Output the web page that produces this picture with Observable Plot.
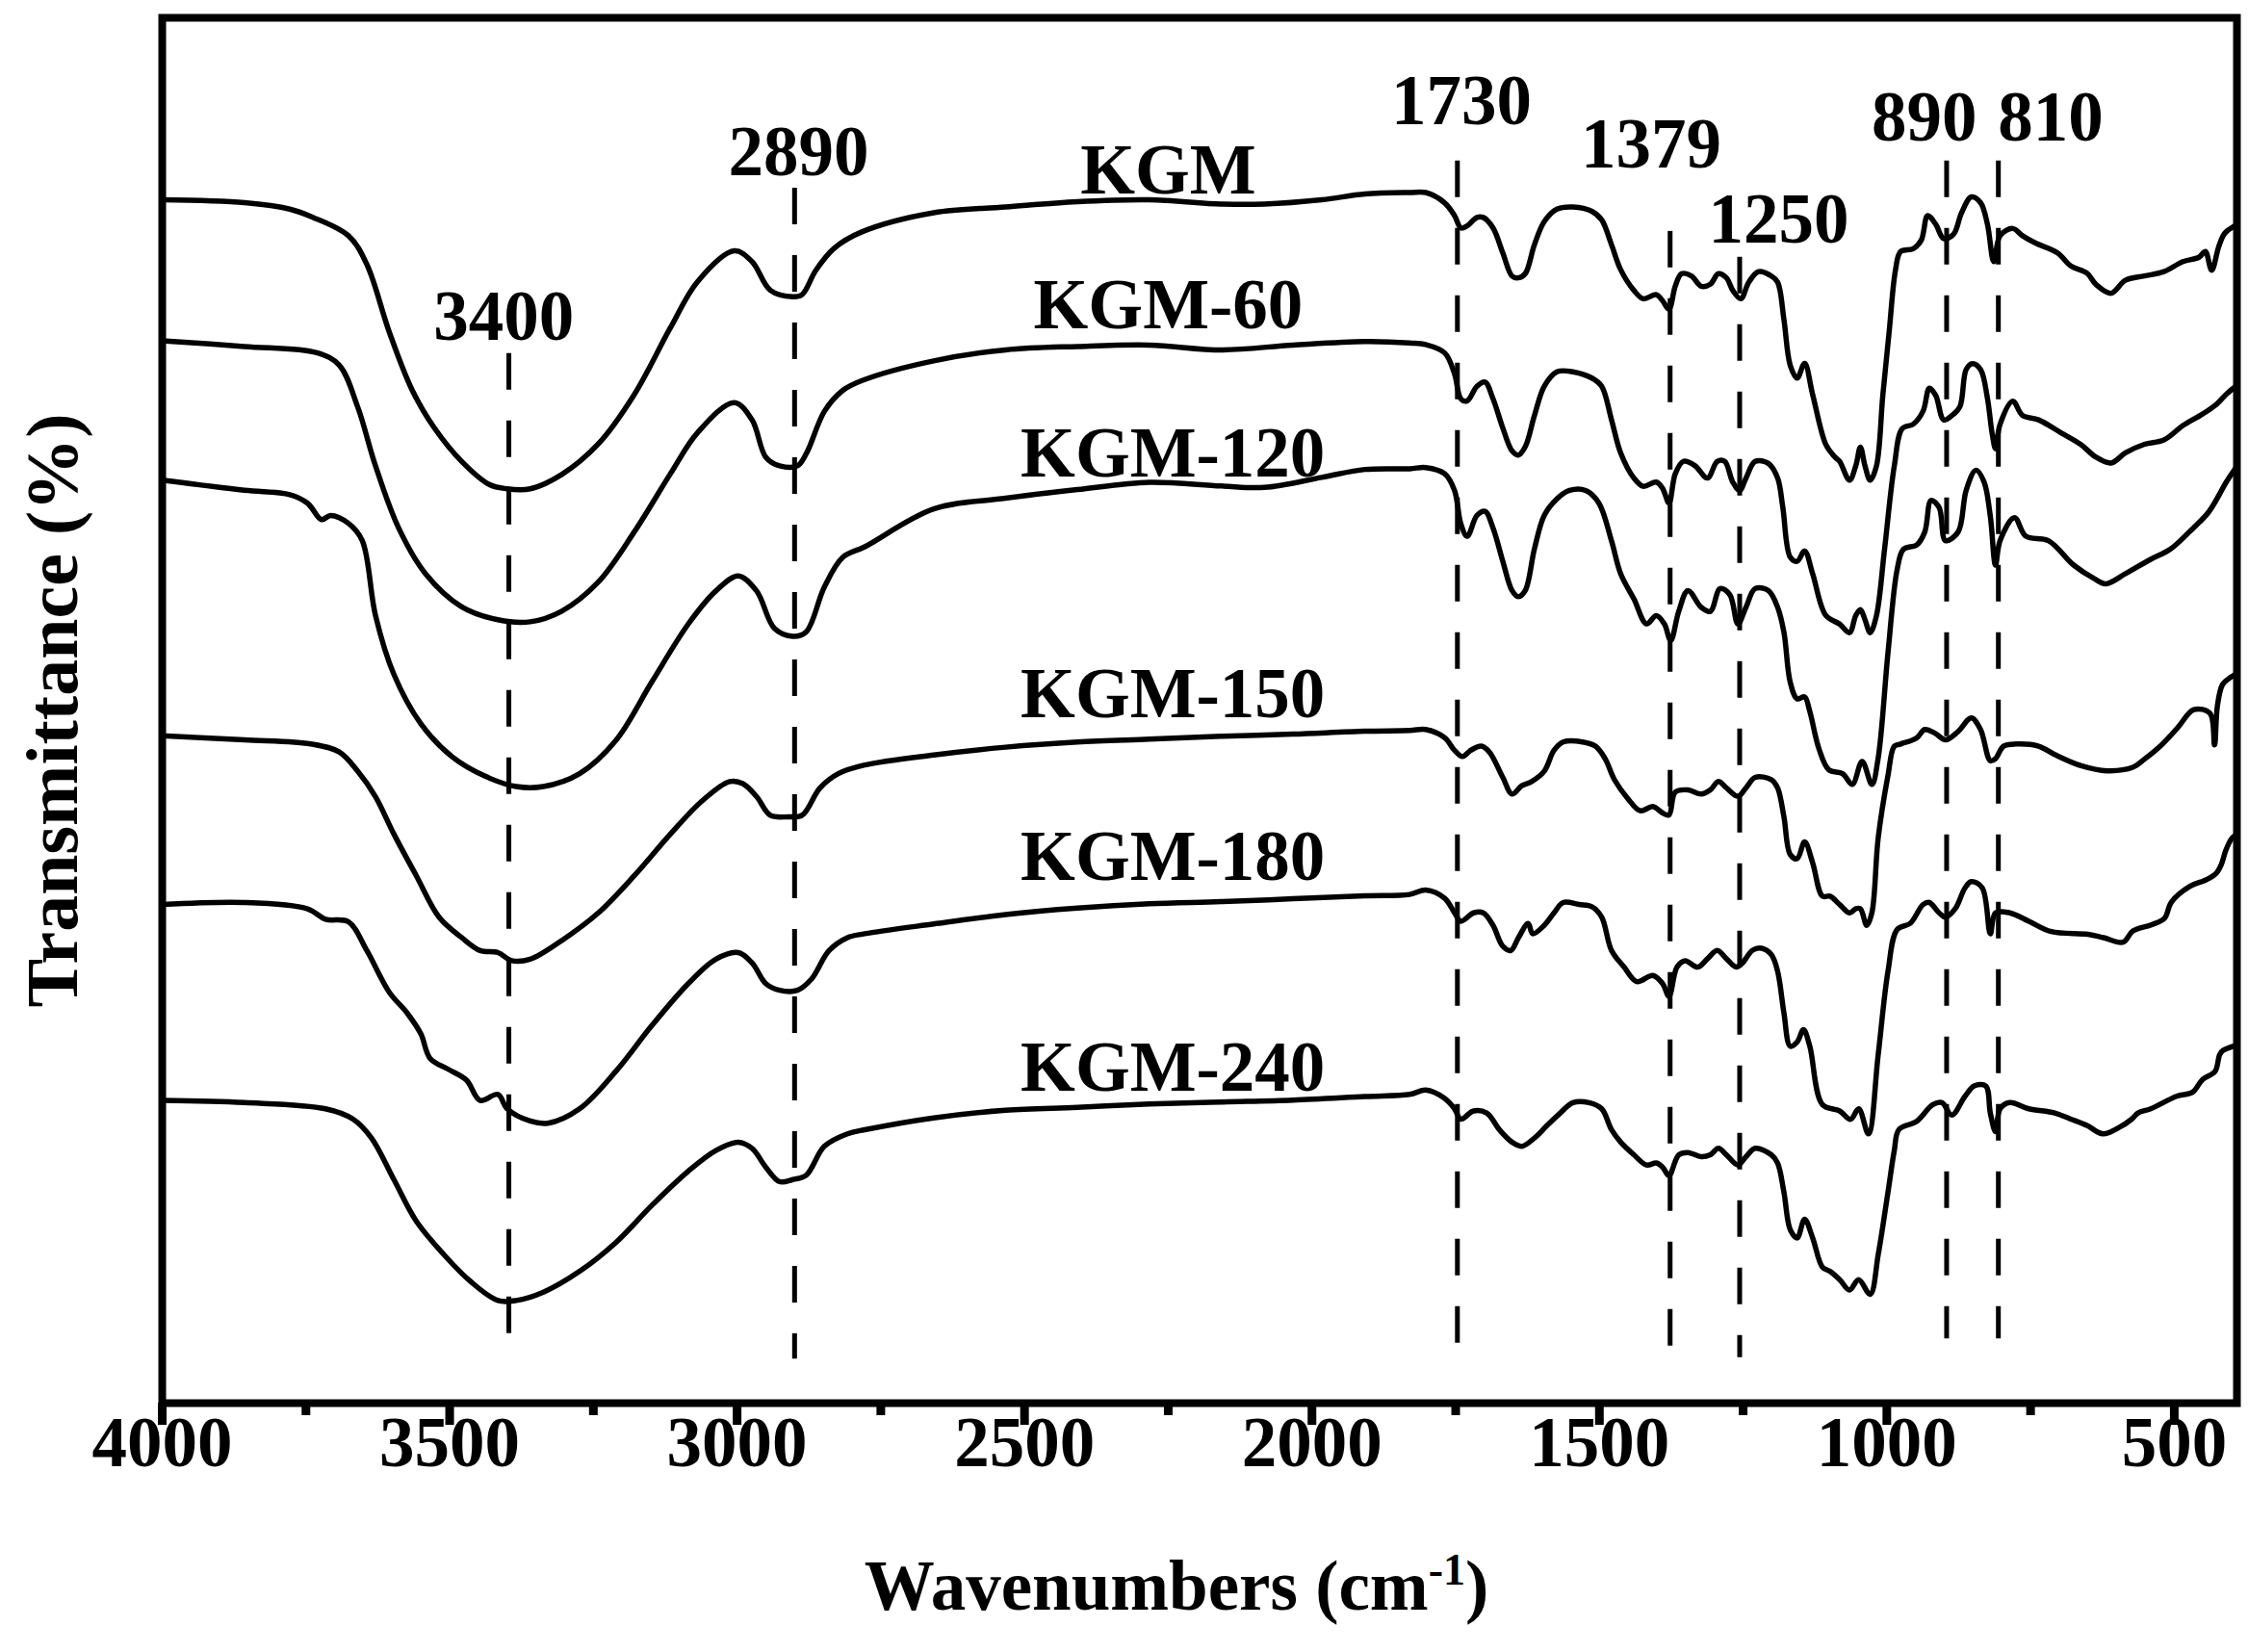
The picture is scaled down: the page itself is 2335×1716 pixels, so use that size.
<!DOCTYPE html>
<html>
<head>
<meta charset="utf-8">
<script src="https://cdn.jsdelivr.net/npm/d3@7"></script>
<script src="https://cdn.jsdelivr.net/npm/@observablehq/plot@0.6"></script>
<style>
  html, body { margin: 0; padding: 0; background: #fff; }
  #chart svg { display: block; }
</style>
</head>
<body>
<div id="chart"></div>
<script>
// ---- Data: [wavenumber (cm-1), offset transmittance (a.u.)] ----
const seriesNames = ["KGM", "KGM-60", "KGM-120", "KGM-150", "KGM-180", "KGM-240"];

const kgm = [[4000,842],[3857,840],[3778,835.5],[3739,830],[3676,817],[3644,797],[3605,750],[3565,709.5],[3526,683],[3479,660],[3431,644],[3400,641],[3360,641],[3305,651],[3242,672],[3179,706.5],[3116,753],[3069,785],[3005,806.5],[2974,799],[2942,779],[2903,774.6],[2887,776],[2863,793],[2832,808],[2784,819.5],
 [2658,833],[2533,837],[2408,840.7],[2283,842],[2158,839],[2083,839],[1983,842],[1908,846],[1830,847],
 [1802,847],[1769,839.8],[1752,831],[1741,822.4],[1730,823.9],[1713,829.7],[1702,829.7],[1685,822.4],[1668,805],[1652,789],[1641,787.7],[1629,790.6],[1613,810.8],[1596,826.8],[1574,835.5],[1546,837],[1513,834],[1496,828],[1479,810.8],[1463,793.4],[1440,779],[1424,773.2],[1401,776],[1390,771.7],[1379,766],[1368,781.9],[1357,790.6],[1340,789],[1323,781.9],[1307,783.3],[1293,790.6],[1279,787.7],[1268,779],[1254,773.2],[1240,784.8],[1223,792],[1201,789],[1190,784.8],[1179,758.7],[1168,726.8],[1156,718],[1143,728.2],[1129,706.5],[1106,671.7],[1090,663],
 [1082,660],[1065,647],[1054,657],[1046,670],[1038,657],[1029,647],[1018,657],[1007,706],[996,750],[985,793],[976,806],[954,808],[940,814],[929,831],[915,825],[901,815],[884,818],[870,833],[853,844],[837,840],[825,825],[814,799],[803,817],[781,822],[764,817],[742,812],[703,805],[680,796],[652,791],[636,783],[610,777],[585,786],[552,789],[518,792],[485,799],[457,802],[446,806],[435,793],[423,809],[415,817],[409,820],[394,824]];

const kgm60 = [[4000,744],[3857,740],[3731,735.6],[3692,727],[3660,698],[3629,657],[3589,614],[3542,582],[3479,559],[3416,550],[3360,548.6],[3305,556],[3242,576],[3179,611],[3116,651.5],[3069,680],[3005,701],[2974,689],[2950,663],[2926,657],[2895,657],[2879,666],[2848,695],[2816,709.5],[2778,717],
 [2658,730],[2533,737.6],[2408,740],[2283,741],[2158,737.6],[2033,741],[1908,743.5],[1830,742.5],
 [1802,741.3],[1769,735.5],[1752,721],[1741,703.6],[1730,702.2],[1713,712.3],[1699,715.2],[1685,703.6],[1668,683.3],[1652,667.4],[1641,664.5],[1629,670.3],[1613,692],[1596,712.3],[1574,722.4],[1546,722.4],[1513,718],[1496,712.3],[1479,689.1],[1463,666],[1440,648.5],[1424,642.8],[1401,645.7],[1390,641.3],[1379,631.2],[1368,651.5],[1354,660.1],[1334,657.2],[1312,648.5],[1295,660.1],[1282,660.1],[1268,645.7],[1256,639.9],[1245,648.5],[1229,660.1],[1206,658.7],[1190,648.5],[1181,628.3],[1168,593.5],[1156,590.6],[1143,597.8],[1129,581.9],[1106,552.9],
 [1082,547],[1065,541],[1054,553],[1046,557],[1038,550],[1029,541],[1018,553],[1004,599],[987,657],[973,683],[954,686],[937,695],[926,711],[915,706],[901,689],[887,692],[873,698],[862,724],[851,728],[837,724],[825,704],[817,680],[811,669],[803,686],[781,702],[764,692],[736,689],[697,680],[663,672],[636,663],[610,659],[585,666],[552,672],[518,675],[485,685],[451,693],[429,699],[409,707],[394,712]];

const kgm120 = [[4000,647],[3857,640],[3778,637],[3747,631],[3723,619.6],[3707,622.5],[3676,617],[3652,605],[3629,553],[3597,512],[3550,477.6],[3495,454.5],[3440,441.5],[3384,434],[3337,434],[3274,443],[3211,466],[3148,507],[3085,547],[3037,570],[2998,580.5],[2966,570],[2935,544],[2903,538.5],[2880,541.5],[2848,573],[2816,593.5],[2778,600.7],
 [2658,627],[2533,634.5],[2408,640.5],[2283,645.6],[2158,643],[2083,642],[1983,649],[1908,654.5],[1830,655],
 [1802,655.8],[1769,651.5],[1752,639.9],[1741,616.7],[1730,608],[1713,622.5],[1699,625.4],[1685,613.8],[1668,590.6],[1652,570.3],[1641,566],[1629,570.3],[1613,599.3],[1596,622.5],[1574,634],[1552,639.9],[1524,639.9],[1501,631.2],[1479,605],[1463,582],[1440,564.5],[1418,547.1],[1401,552.9],[1387,547.1],[1376,535.5],[1362,555.8],[1346,570.3],[1323,558.7],[1307,555.8],[1290,571.7],[1273,567.4],[1259,547.1],[1245,558.7],[1229,571.7],[1206,570.3],[1190,558.7],[1179,541.3],[1168,506.5],[1156,495],[1143,496.4],[1134,486.2],[1118,460.2],[1101,445.7],
 [1077,443],[1060,435.5],[1043,451.5],[1026,435.5],[1015,454],[998,527],[982,585],[971,599],[948,602],[934,611],[923,633],[909,628],[898,605],[876,611],[862,640],[845,654],[831,646],[820,622],[811,588],[803,605],[778,621],[758,608],[719,605],[675,588],[641,579],[619,575],[585,582],[541,592],[507,599],[474,611],[440,625],[409,646],[394,655]];

const kgm150 = [[4000,469.3],[3857,466.5],[3739,463.5],[3692,458],[3660,444.7],[3629,427],[3597,401],[3558,372],[3518,343],[3479,329],[3447,320],[3416,318.6],[3392,313],[3360,314],[3305,327],[3242,346],[3179,372],[3116,401],[3061,424],[3013,437.5],[2990,436],[2966,427],[2942,414],[2911,413],[2887,414],[2856,433],[2824,443],[2778,449],
 [2658,456],[2533,461.4],[2408,465],[2283,467],[2158,469],[2033,470.5],[1908,472.5],[1830,473],
 [1802,473.7],[1769,467.9],[1752,459.2],[1738,454.9],[1724,459.2],[1705,462.1],[1691,457.8],[1668,440.4],[1652,428.8],[1635,434.6],[1618,437.5],[1596,444.7],[1579,459.2],[1563,465],[1529,465],[1507,462.1],[1490,453.4],[1474,438.9],[1451,425.9],[1429,417.2],[1407,420.1],[1390,415.7],[1379,414.3],[1368,430.2],[1346,431.7],[1323,428.8],[1307,431.7],[1293,437.5],[1279,433.1],[1259,427.3],[1245,433.1],[1229,440.4],[1201,438.9],[1190,433.1],[1179,412.9],[1168,386.8],[1156,383.9],[1143,395.5],[1129,381],[1112,357.8],
 [1099,357.8],[1082,352],[1065,346.2],[1054,349.1],[1046,349.1],[1035,337.5],[1026,346.2],[1015,398.4],[998,441.8],[987,462.1],[976,463.6],[948,467.9],[934,473.7],[915,470.8],[898,466.5],[876,472.3],[853,481.8],[837,473.7],[820,452],[811,453.4],[797,462.1],[775,463.6],[736,462.1],[708,456.3],[662,448.5],[617,445],[572,447.4],[552,453],[522,463],[494,475],[466,487.5],[438,485],[430,463],[425,490],[416,505],[402,510],[394,512]];

const kgm180 = [[4000,352],[3857,353.4],[3747,349],[3716,341.8],[3676,340],[3644,320],[3605,291],[3574,276.6],[3550,262],[3534,245],[3503,237.6],[3471,230],[3447,215.8],[3416,220],[3400,210],[3360,201.5],[3329,200],[3274,210],[3211,236],[3148,268],[3085,297],[3037,314],[2998,318.6],[2974,311.5],[2950,297],[2926,292.4],[2895,292.4],[2871,300],[2840,320],[2808,329],[2778,331.7],
 [2658,338.5],[2533,345],[2408,349.5],[2283,352.5],[2158,354],[2033,356],[1908,358],[1830,359],
 [1802,362.1],[1769,356.3],[1752,346.2],[1741,340.4],[1719,346.2],[1702,346.2],[1685,337.5],[1668,323],[1654,320.1],[1641,328.8],[1624,338.9],[1616,331.7],[1596,337.5],[1579,346.2],[1563,353.4],[1535,352],[1513,350.5],[1496,343.3],[1479,320.1],[1457,308.5],[1435,298.4],[1407,302.7],[1390,297],[1379,288.2],[1365,308.5],[1351,312.9],[1329,308.5],[1312,314.3],[1295,320.1],[1279,314.3],[1262,308.5],[1251,311.4],[1234,320.1],[1218,321.6],[1201,317.2],[1190,305.6],[1179,276.6],[1168,253.5],[1156,256.4],[1145,265],[1134,253.5],[1112,212.9],
 [1082,208.5],[1063,202.7],[1049,210],[1032,192.6],[1015,247.7],[998,305.6],[982,334.6],[959,339],[937,352],[926,353.4],[909,346.2],[898,343.3],[881,349.1],[864,363.6],[853,368],[834,363.6],[820,331.7],[811,346.2],[786,346.2],[753,340.4],[714,333.2],[650,331.3],[623,329],[589,325.8],[572,333.6],[539,338],[517,342.5],[505,353.7],[472,364.8],[444,369.3],[427,373.7],[418,380],[410,390],[400,398],[394,400]];

const kgm240 = [[4000,215.8],[3857,214.3],[3716,210],[3668,202.8],[3636,189.7],[3597,160.8],[3558,131.8],[3510,108.6],[3463,89.7],[3416,76.7],[3384,76.7],[3337,82.5],[3274,97],[3211,117],[3148,143],[3085,166.6],[3037,181],[2998,186.7],[2974,182.4],[2950,169.4],[2926,159.3],[2903,160.8],[2880,163.7],[2848,184],[2808,192.6],[2778,195.4],
 [2658,203.7],[2533,209],[2408,211],[2283,213.3],[2158,214.7],[2033,216],[1908,218.5],[1830,220],
 [1802,223],[1769,217.2],[1752,210],[1741,202.8],[1719,208.5],[1696,207.1],[1674,195.5],[1652,186.8],[1635,183.9],[1613,189.7],[1591,198.4],[1568,207.1],[1546,214.3],[1518,214.3],[1496,210],[1479,195.5],[1463,186.8],[1440,178],[1418,170.9],[1401,172.3],[1390,169.4],[1379,163.6],[1362,178],[1346,179.6],[1323,176.7],[1307,178],[1293,182.5],[1279,178],[1259,170.9],[1245,176.7],[1229,182.5],[1201,178],[1190,172.3],[1179,152],[1168,125.9],[1156,120.2],[1143,133.2],[1129,120.2],[1112,99.9],
 [1099,97],[1082,91.2],[1065,84],[1049,91.2],[1029,81],[1015,108.6],[998,152],[987,181],[979,195.5],[948,201.3],[920,212.9],[904,214.3],[887,205.6],[864,218.7],[848,225.9],[828,225.9],[820,207.1],[811,194.1],[803,210],[786,214.3],[753,210],[708,207.1],[680,202.8],[652,198.4],[624,192.6],[596,197],[574,202.8],[563,207.1],[541,210],[496,218.7],[468,221.6],[451,230.3],[429,236],[421,247.7],[415,250.6],[394,254]];

// Curve labels (placed over each spectrum)
const seriesLabelX = [2250, 2250, 2242, 2242, 2242, 2242];
const seriesLabelY = [862, 768, 665, 498, 385, 238];

// Band annotations: label text, label position, dashed marker position and extent
const bandLabels  = ["3400", "2890", "1730", "1379", "1250", "890", "810"];
const bandLabelX  = [3406, 2893, 1740, 1410, 1188, 935, 715];
const bandLabelY  = [760, 875, 910, 880, 828, 899, 899];
const bandLineX   = [3397, 2900, 1747, 1377, 1256, 896, 806];
const bandLineTop = [735, 850, 869, 820, 802, 869, 869];
const bandLineBot = [37, 36, 47, 45, 37, 50, 50];

// Axis ticks
const majorTicks = [4000, 3500, 3000, 2500, 2000, 1500, 1000, 500];
const minorTicks = [3750, 3250, 2750, 2250, 1750, 1250, 750];
const xTitle = "Wavenumbers (cm-1)";
const yTitle = "Transmittance (%)";

// ---- Build tables ----
const seriesData = [kgm, kgm60, kgm120, kgm150, kgm180, kgm240];
const lines = seriesData.flatMap((arr, i) => arr.map(([w, t]) => ({series: seriesNames[i], w, t})));
const seriesLabels = seriesNames.map((n, i) => ({text: n, x: seriesLabelX[i], y: seriesLabelY[i]}));
const bands = bandLabels.map((t, i) => ({text: t, lx: bandLabelX[i], ly: bandLabelY[i], x: bandLineX[i], y1: bandLineTop[i], y2: bandLineBot[i]}));

const FONT = "'Liberation Serif', 'Times New Roman', 'DejaVu Serif', serif";
const FS = 73;

const chart = Plot.plot({
  width: 2335,
  height: 1716,
  marginLeft: 168,
  marginRight: 12,
  marginTop: 18,
  marginBottom: 259,
  style: {background: "#fff", color: "#000", fontFamily: FONT},
  x: {domain: [4000, 391], axis: null},
  y: {domain: [5.35, 968.5], axis: null},
  marks: [
    Plot.ruleX(bands, {x: "x", y1: "y1", y2: "y2", stroke: "#000", strokeWidth: 5, strokeDasharray: "38,32"}),
    Plot.line(lines, {x: "w", y: "t", z: "series", stroke: "#000", strokeWidth: 5.5,
      curve: "catmull-rom", strokeLinejoin: "round", strokeLinecap: "round", clip: true}),
    Plot.text(seriesLabels, {x: "x", y: "y", text: "text", fontSize: FS, fontWeight: "bold", fontFamily: FONT, fill: "#000"}),
    Plot.text(bands, {x: "lx", y: "ly", text: "text", fontSize: FS, fontWeight: "bold", fontFamily: FONT, fill: "#000"}),
    Plot.frame({stroke: "#000", strokeWidth: 8}),
    Plot.axisX({ticks: majorTicks, tickSize: 23, tickPadding: -9, strokeWidth: 9, tickFormat: d => String(d),
      fontSize: FS, fontWeight: "bold", fontFamily: FONT, fill: "#000", label: null}),
    Plot.axisX({ticks: minorTicks, tickSize: 13, strokeWidth: 9, tickFormat: () => "", label: null}),
    Plot.text([xTitle], {frameAnchor: "bottom", dy: 214, dx: -24, text: d => d, fontSize: FS, fontWeight: "bold", fontFamily: FONT, fill: "#000"}),
    Plot.text([yTitle], {frameAnchor: "left", textAnchor: "middle", dx: -113, rotate: -90, text: d => d, fontSize: 76, fontWeight: "bold", fontFamily: FONT, fill: "#000"})
  ]
});

document.getElementById("chart").appendChild(chart);

// Superscript "-1" in the x-axis title
d3.select(chart).selectAll("text").each(function() {
  if (this.textContent === xTitle) {
    const t = d3.select(this);
    t.text(null);
    t.append("tspan").text("Wavenumbers (cm");
    t.append("tspan").attr("dy", -26).attr("font-size", 46).text("-1");
    t.append("tspan").attr("dy", 26).text(")");
  }
});
</script>
</body>
</html>
